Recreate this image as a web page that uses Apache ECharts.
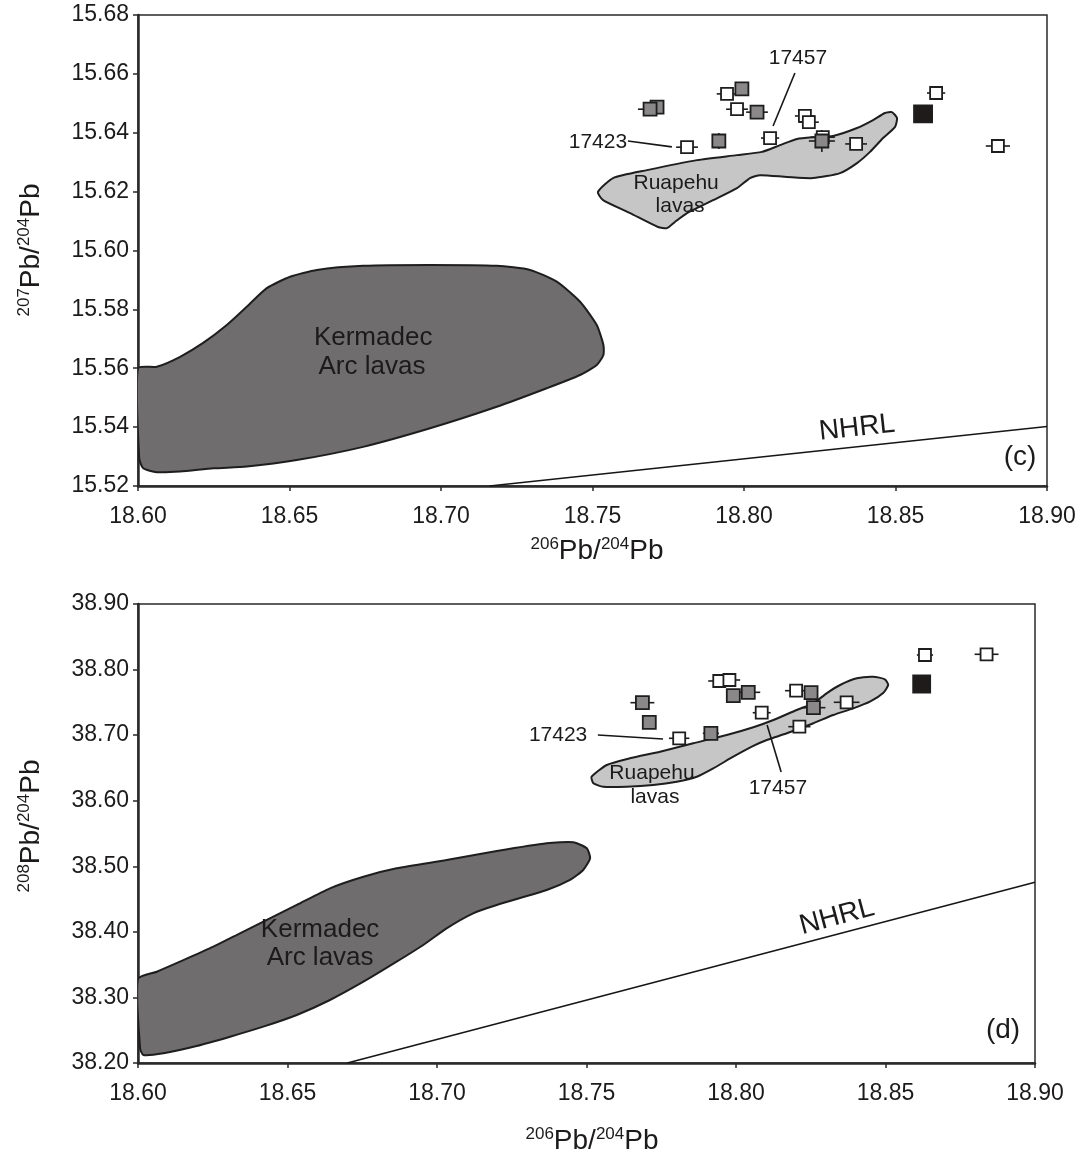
<!DOCTYPE html>
<html>
<head>
<meta charset="utf-8">
<script src="https://cdn.jsdelivr.net/npm/echarts@6/dist/echarts.min.js"></script>
<style>
  html, body { margin: 0; padding: 0; background: #fff; }
  #chart { width: 1082px; height: 1158px; }
</style>
</head>
<body>
<div id="chart"></div>
<script>
// ---------- axis ranges ----------
const xMin = 18.60, xMax = 18.90, xStep = 0.05;
const yMinC = 15.52, yMaxC = 15.68, yStepC = 0.02;
const yMinD = 38.20, yMaxD = 38.90, yStepD = 0.10;

// ---------- panel (c): 207Pb/204Pb vs 206Pb/204Pb ----------
const whiteCx   = [18.7944, 18.7977, 18.7812, 18.8086, 18.8201, 18.8214, 18.8260, 18.8370, 18.8634, 18.8838];
const whiteCy   = [15.6532, 15.6480, 15.6351, 15.6382, 15.6457, 15.6436, 15.6385, 15.6362, 15.6535, 15.6355];
const whiteCerr = [0.0034, 0.0036, 0.0036, 0.0030, 0.0033, 0.0033, 0.0040, 0.0036, 0.0030, 0.0040];

const grayCx    = [18.7713, 18.7690, 18.7993, 18.8043, 18.7917, 18.8257];
const grayCy    = [15.6487, 15.6480, 15.6549, 15.6470, 15.6372, 15.6372];
const grayCerrX = [0, 0.0040, 0, 0.0036, 0, 0.0043];
const grayCerrY = [0, 0, 0, 0, 0.0027, 0.0037];

const blackCx = [18.8591];
const blackCy = [15.6464];

const ruapehuCx = [18.7518, 18.7568, 18.7680, 18.7845, 18.7977, 18.8059, 18.8119, 18.8175, 18.8228, 18.8294,
                   18.8373, 18.8426, 18.8465, 18.8488, 18.8505, 18.8498, 18.8459, 18.8416, 18.8373, 18.8317,
                   18.8228, 18.8142, 18.8053, 18.8020, 18.7977, 18.7898, 18.7812, 18.7772, 18.7746, 18.7716,
                   18.7624, 18.7535];
const ruapehuCy = [15.6199, 15.6246, 15.6273, 15.6307, 15.6324, 15.6335, 15.6358, 15.6379, 15.6385, 15.6389,
                   15.6416, 15.6443, 15.6467, 15.6470, 15.6450, 15.6419, 15.6382, 15.6335, 15.6297, 15.6263,
                   15.6246, 15.6250, 15.6256, 15.6246, 15.6212, 15.6171, 15.6127, 15.6097, 15.6076, 15.6080,
                   15.6127, 15.6171];

const kermadecCx = [18.6000, 18.6062, 18.6139, 18.6215, 18.6293, 18.6359, 18.6425, 18.6502, 18.6590, 18.6743,
                    18.6964, 18.7184, 18.7294, 18.7382, 18.7459, 18.7514, 18.7536, 18.7536, 18.7514, 18.7459,
                    18.7349, 18.7184, 18.6964, 18.6743, 18.6524, 18.6359, 18.6249, 18.6139, 18.6062, 18.6017,
                    18.6004];
const kermadecCy = [15.5600, 15.5605, 15.5639, 15.5686, 15.5747, 15.5809, 15.5872, 15.5911, 15.5934, 15.5948,
                    15.5951, 15.5948, 15.5934, 15.5894, 15.5826, 15.5747, 15.5679, 15.5645, 15.5611, 15.5577,
                    15.5532, 15.5469, 15.5396, 15.5333, 15.5288, 15.5266, 15.5260, 15.5249, 15.5247, 15.5260,
                    15.5294];

const nhrlCx = [18.716, 18.900];
const nhrlCy = [15.5200, 15.5402];

// ---------- panel (d): 208Pb/204Pb vs 206Pb/204Pb ----------
const whiteDx   = [18.7944, 18.7978, 18.7810, 18.8086, 18.8201, 18.8212, 18.8370, 18.8632, 18.8838];
const whiteDy   = [38.7826, 38.7841, 38.6952, 38.7342, 38.7678, 38.7129, 38.7501, 38.8222, 38.8233];
const whiteDerr = [0.0037, 0.0036, 0.0034, 0.0030, 0.0037, 0.0037, 0.0043, 0.0027, 0.0040];

const grayDx   = [18.7687, 18.7710, 18.7916, 18.7991, 18.8041, 18.8251, 18.8259];
const grayDy   = [38.7495, 38.7196, 38.7028, 38.7602, 38.7653, 38.7647, 38.7419];
const grayDerr = [0.0040, 0, 0.0027, 0, 0.0040, 0, 0.0040];

const blackDx = [18.8621];
const blackDy = [38.7780];

const ruapehuDx = [18.7517, 18.7568, 18.7645, 18.7746, 18.7857, 18.7969, 18.8058, 18.8125, 18.8203, 18.8259,
                   18.8303, 18.8348, 18.8404, 18.8459, 18.8498, 18.8509, 18.8493, 18.8448, 18.8392, 18.8325,
                   18.8259, 18.8170, 18.8103, 18.8058, 18.7991, 18.7924, 18.7869, 18.7802, 18.7723, 18.7634,
                   18.7556, 18.7523];
const ruapehuDy = [38.6366, 38.6545, 38.6647, 38.6748, 38.6876, 38.7002, 38.7120, 38.7231, 38.7384, 38.7486,
                   38.7638, 38.7765, 38.7867, 38.7891, 38.7852, 38.7765, 38.7647, 38.7510, 38.7409, 38.7307,
                   38.7181, 38.7028, 38.6926, 38.6835, 38.6671, 38.6494, 38.6366, 38.6290, 38.6240, 38.6214,
                   38.6214, 38.6266];

const kermadecDx = [18.6000, 18.6063, 18.6140, 18.6252, 18.6341, 18.6441, 18.6531, 18.6642, 18.6754, 18.6865,
                    18.7032, 18.7200, 18.7367, 18.7456, 18.7501, 18.7512, 18.7489, 18.7445, 18.7367, 18.7200,
                    18.7121, 18.7032, 18.6954, 18.6865, 18.6754, 18.6642, 18.6531, 18.6419, 18.6308, 18.6196,
                    18.6085, 18.6018, 18.6007];
const kermadecDy = [38.3281, 38.3392, 38.3545, 38.3774, 38.3978, 38.4207, 38.4410, 38.4664, 38.4841, 38.4969,
                    38.5096, 38.5233, 38.5351, 38.5366, 38.5274, 38.5122, 38.4943, 38.4791, 38.4638, 38.4410,
                    38.4283, 38.4054, 38.3800, 38.3545, 38.3240, 38.2961, 38.2732, 38.2554, 38.2401, 38.2259,
                    38.2148, 38.2122, 38.2224];

const nhrlDx = [18.670, 18.900];
const nhrlDy = [38.2000, 38.4755];

// ---------- styling ----------
const FONT = "'Liberation Sans', Arial, Helvetica, sans-serif";
const INK = '#1c1a1a';
const OUTLINE = '#1e1e1e';

const chart = echarts.init(document.getElementById('chart'), null, { renderer: 'canvas' });

function xAxisCfg(grid) {
  return {
    gridIndex: grid, type: 'value', min: xMin, max: xMax, interval: xStep,
    axisLine: { onZero: false, lineStyle: { color: '#2a2a2a', width: 2.5 } },
    axisTick: { show: true, inside: false, length: 5, lineStyle: { color: '#2a2a2a', width: 1.5 } },
    axisLabel: { fontSize: 23, fontFamily: FONT, color: INK, margin: 19,
                 formatter: v => v.toFixed(2), showMaxLabel: true, showMinLabel: true },
    splitLine: { show: false }
  };
}
function yAxisCfg(grid, min, max, step) {
  return {
    gridIndex: grid, type: 'value', min: min, max: max, interval: step,
    axisLine: { onZero: false, lineStyle: { color: '#2a2a2a', width: 2.5 } },
    axisTick: { show: true, inside: false, length: 5, lineStyle: { color: '#2a2a2a', width: 1.5 } },
    axisLabel: { fontSize: 23, fontFamily: FONT, color: INK, margin: 9,
                 formatter: v => v.toFixed(2), showMaxLabel: true, showMinLabel: true },
    splitLine: { show: false }
  };
}

function zip(xs, ys) { return xs.map((x, i) => [x, ys[i]]); }

function regionSeries(idx, xs, ys, fill) {
  return {
    type: 'custom', xAxisIndex: idx, yAxisIndex: idx, z: 1, silent: true, clip: true,
    data: [[xs[0], ys[0]]],
    renderItem: function (params, api) {
      const pts = xs.map((x, i) => api.coord([x, ys[i]]));
      return {
        type: 'polygon',
        shape: { points: pts, smooth: 0.2 },
        style: { fill: fill, stroke: OUTLINE, lineWidth: 2 }
      };
    }
  };
}

function errorSeries(idx, xs, ys, ex, ey) {
  return {
    type: 'custom', xAxisIndex: idx, yAxisIndex: idx, z: 3, silent: true,
    data: xs.map((x, i) => [x, ys[i], ex[i], ey ? ey[i] : 0]),
    renderItem: function (params, api) {
      const x = api.value(0), y = api.value(1), dx = api.value(2), dy = api.value(3);
      const kids = [];
      if (dx > 0) {
        const a = api.coord([x - dx, y]), b = api.coord([x + dx, y]);
        kids.push({ type: 'line', shape: { x1: a[0], y1: a[1], x2: b[0], y2: b[1] },
                    style: { stroke: OUTLINE, lineWidth: 1.6 } });
      }
      if (dy > 0) {
        const a = api.coord([x, y - dy]), b = api.coord([x, y + dy]);
        kids.push({ type: 'line', shape: { x1: a[0], y1: a[1], x2: b[0], y2: b[1] },
                    style: { stroke: OUTLINE, lineWidth: 1.6 } });
      }
      return { type: 'group', children: kids };
    }
  };
}

function squares(idx, xs, ys, fill, size, z) {
  return {
    type: 'scatter', xAxisIndex: idx, yAxisIndex: idx, z: z, silent: true,
    symbol: 'rect', symbolSize: size,
    itemStyle: { color: fill, borderColor: OUTLINE, borderWidth: 1.8, opacity: 1 },
    data: zip(xs, ys)
  };
}

function refLine(idx, xs, ys) {
  return {
    type: 'line', xAxisIndex: idx, yAxisIndex: idx, z: 2, silent: true,
    symbol: 'none', lineStyle: { color: '#161616', width: 1.6 },
    data: zip(xs, ys)
  };
}

const WHITE = '#ffffff', GRAY = '#8a8888', BLACK = '#1f1b1b';

chart.setOption({
  animation: false,
  backgroundColor: '#ffffff',
  grid: [
    { left: 138, top: 15, width: 909, height: 471, show: true, borderColor: '#2a2a2a', borderWidth: 1.5, backgroundColor: 'transparent' },
    { left: 138, top: 604, width: 897, height: 459, show: true, borderColor: '#2a2a2a', borderWidth: 1.5, backgroundColor: 'transparent' }
  ],
  xAxis: [xAxisCfg(0), xAxisCfg(1)],
  yAxis: [yAxisCfg(0, yMinC, yMaxC, yStepC), yAxisCfg(1, yMinD, yMaxD, yStepD)],
  series: [
    regionSeries(0, kermadecCx, kermadecCy, '#6f6d6d'),
    regionSeries(0, ruapehuCx, ruapehuCy, '#c6c6c6'),
    refLine(0, nhrlCx, nhrlCy),
    errorSeries(0, whiteCx, whiteCy, whiteCerr, null),
    errorSeries(0, grayCx, grayCy, grayCerrX, grayCerrY),
    squares(0, whiteCx, whiteCy, WHITE, 12, 4),
    squares(0, grayCx, grayCy, GRAY, 13, 5),
    squares(0, blackCx, blackCy, BLACK, [18, 17], 6),

    regionSeries(1, kermadecDx, kermadecDy, '#6f6d6d'),
    regionSeries(1, ruapehuDx, ruapehuDy, '#c6c6c6'),
    refLine(1, nhrlDx, nhrlDy),
    errorSeries(1, whiteDx, whiteDy, whiteDerr, null),
    errorSeries(1, grayDx, grayDy, grayDerr, null),
    squares(1, whiteDx, whiteDy, WHITE, 12, 4),
    squares(1, grayDx, grayDy, GRAY, 13, 5),
    squares(1, blackDx, blackDy, BLACK, [17, 17], 6)
  ]
});

// ---------- annotations, placed in data coordinates ----------
const notesC = {
  texts: [
    { t: '17457', at: [18.8178, 15.6654], size: 21 },
    { t: '17423', at: [18.7518, 15.6368], size: 21 },
    { t: 'Ruapehu', at: [18.7776, 15.6229], size: 21 },
    { t: 'lavas', at: [18.7789, 15.6151], size: 21 },
    { t: 'Kermadec', at: [18.6776, 15.5703], size: 26 },
    { t: 'Arc lavas', at: [18.6772, 15.5604], size: 26 },
    { t: 'NHRL', at: [18.8373, 15.5397], size: 28, rot: 6.3 },
    { t: '(c)', at: [18.8911, 15.5299], size: 28 }
  ],
  leaders: [
    [[18.8168, 15.6603], [18.8096, 15.6423]],
    [[18.7617, 15.6372], [18.7762, 15.6352]]
  ]
};
const notesD = {
  texts: [
    { t: '17423', at: [18.7405, 38.7002], size: 21 },
    { t: '17457', at: [18.8140, 38.6194], size: 21 },
    { t: 'Ruapehu', at: [18.7719, 38.6423], size: 21 },
    { t: 'lavas', at: [18.7729, 38.6057], size: 21 },
    { t: 'Kermadec', at: [18.6609, 38.4028], size: 26 },
    { t: 'Arc lavas', at: [18.6609, 38.3601], size: 26 },
    { t: 'NHRL', at: [18.8338, 38.4227], size: 28, rot: 15 },
    { t: '(d)', at: [18.8893, 38.2503], size: 28 }
  ],
  leaders: [
    [[18.7538, 38.7002], [18.7756, 38.6941]],
    [[18.8104, 38.7155], [18.8151, 38.6438]]
  ]
};

const graphics = [];
[[notesC, 0], [notesD, 1]].forEach(([notes, g]) => {
  const px = p => chart.convertToPixel({ xAxisIndex: g, yAxisIndex: g }, p);
  notes.texts.forEach(n => {
    const p = px(n.at);
    graphics.push({
      type: 'text', x: p[0], y: p[1], z: 10, silent: true,
      rotation: (n.rot || 0) * Math.PI / 180,
      style: { text: n.t, fontSize: n.size, fontFamily: FONT, fill: INK,
               align: 'center', verticalAlign: 'middle' }
    });
  });
  notes.leaders.forEach(l => {
    const a = px(l[0]), b = px(l[1]);
    graphics.push({
      type: 'line', z: 10, silent: true,
      shape: { x1: a[0], y1: a[1], x2: b[0], y2: b[1] },
      style: { stroke: '#161616', lineWidth: 1.6 }
    });
  });
});

// axis titles with superscript mass numbers
const titleRich = {
  s: { fontSize: 17, fontFamily: FONT, lineHeight: 10, verticalAlign: 'top' },
  m: { fontSize: 28, fontFamily: FONT, lineHeight: 30, verticalAlign: 'middle' }
};
function title(x, y, str, rot) {
  return {
    type: 'text', x: x, y: y, z: 10, silent: true, rotation: rot || 0,
    style: { text: str, rich: titleRich, fill: INK, fontFamily: FONT,
             align: 'center', verticalAlign: 'middle' }
  };
}
graphics.push(title(597, 551, '{s|206}{m|Pb/}{s|204}{m|Pb}'));
graphics.push(title(592, 1141, '{s|206}{m|Pb/}{s|204}{m|Pb}'));
graphics.push(title(31, 250, '{s|207}{m|Pb/}{s|204}{m|Pb}', Math.PI / 2));
graphics.push(title(31, 826, '{s|208}{m|Pb/}{s|204}{m|Pb}', Math.PI / 2));

chart.setOption({ graphic: graphics });
</script>
</body>
</html>
